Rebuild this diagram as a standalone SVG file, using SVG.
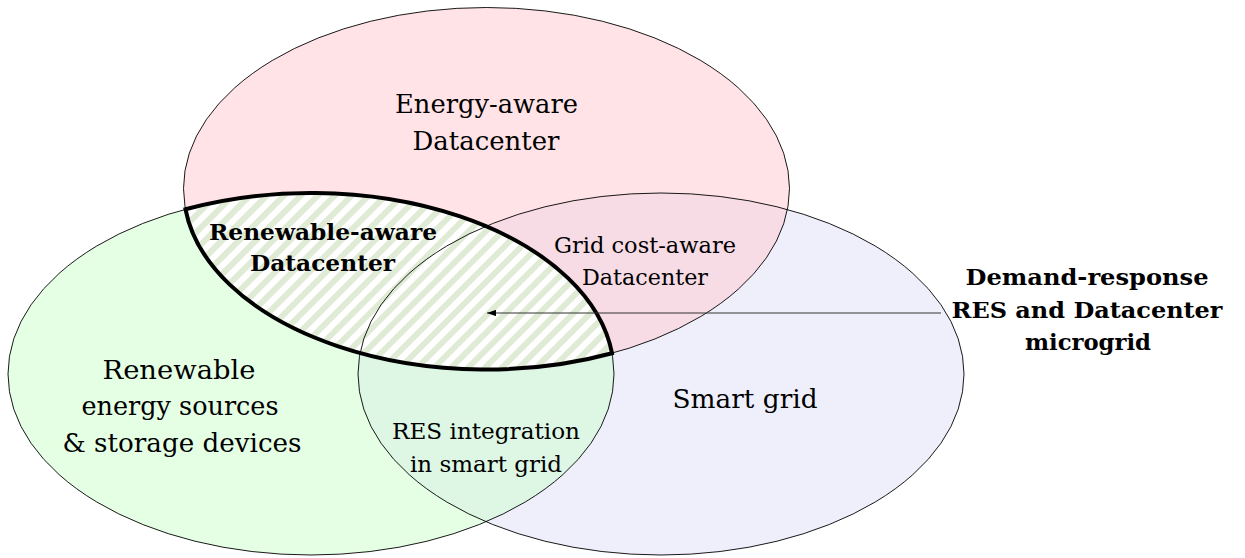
<svg xmlns="http://www.w3.org/2000/svg" width="1245" height="558" viewBox="0 0 1245 558">
  <style>
    .outline { fill: none; stroke: #000; stroke-width: 0.9; }
    .lbl { font-family: "DejaVu Serif", "Liberation Serif", serif; fill: #000; text-anchor: middle; }
    .big { font-size: 26px; }
    .small { font-size: 23px; }
    .bold { font-size: 22.5px; font-weight: bold; }
    .conn { stroke: #333; stroke-width: 1; fill: none; }
  </style>
  <defs>
    <pattern id="hatch" patternUnits="userSpaceOnUse" width="12" height="12" patternTransform="rotate(45)">
      <rect x="0" y="0" width="6" height="12" fill="#E0EBD6"/>
    </pattern>
    <marker id="arrow" viewBox="0 0 10 7" refX="10" refY="3.5" markerWidth="9" markerHeight="6.3" markerUnits="userSpaceOnUse" orient="auto">
      <path d="M0,0 L10,3.5 L0,7 Z" fill="#000"/>
    </marker>
  </defs>

  <rect width="1245" height="558" fill="#fff"/>

  <g id="fills">
    <ellipse cx="661" cy="374" rx="303" ry="181" fill="#DFDFF9" fill-opacity="0.5"/>
    <ellipse cx="311" cy="374" rx="303" ry="181" fill="#CCFFCC" fill-opacity="0.5"/>
    <ellipse cx="486.5" cy="188.5" rx="303" ry="181" fill="#FFC8CE" fill-opacity="0.5"/>
    <path d="M185.5,209.26 A303,181 0 0 1 612,353.24 A303,181 0 0 1 185.5,209.26 Z" fill="#fff"/>
    <path d="M185.5,209.26 A303,181 0 0 1 612,353.24 A303,181 0 0 1 185.5,209.26 Z" fill="url(#hatch)"/>
  </g>

  <g id="node-smart-grid">
    <ellipse class="outline" cx="661" cy="374" rx="303" ry="181"/>
    <text class="lbl big" x="745" y="408" textLength="145" lengthAdjust="spacingAndGlyphs">Smart grid</text>
  </g>

  <g id="node-res">
    <ellipse class="outline" cx="311" cy="374" rx="303" ry="181"/>
    <text class="lbl big" x="179" y="379" textLength="153" lengthAdjust="spacingAndGlyphs">Renewable</text>
    <text class="lbl big" x="180" y="415" textLength="197" lengthAdjust="spacingAndGlyphs">energy sources</text>
    <text class="lbl big" x="182" y="452" textLength="239" lengthAdjust="spacingAndGlyphs">&amp; storage devices</text>
  </g>

  <g id="node-datacenter">
    <ellipse class="outline" cx="486.5" cy="188.5" rx="303" ry="181"/>
    <text class="lbl big" x="486.5" y="113" textLength="183" lengthAdjust="spacingAndGlyphs">Energy-aware</text>
    <text class="lbl big" x="486" y="150" textLength="147" lengthAdjust="spacingAndGlyphs">Datacenter</text>
  </g>

  <g id="node-grid-cost">
    <text class="lbl small" x="645" y="253" textLength="182" lengthAdjust="spacingAndGlyphs">Grid cost-aware</text>
    <text class="lbl small" x="645" y="285" textLength="126" lengthAdjust="spacingAndGlyphs">Datacenter</text>
  </g>

  <g id="node-res-integration">
    <text class="lbl small" x="486" y="439" textLength="188" lengthAdjust="spacingAndGlyphs">RES integration</text>
    <text class="lbl small" x="486" y="472" textLength="152" lengthAdjust="spacingAndGlyphs">in smart grid</text>
  </g>

  <g id="node-renewable-aware">
    <path d="M185.5,209.26 A303,181 0 0 1 612,353.24 A303,181 0 0 1 185.5,209.26 Z" fill="none" stroke="#000" stroke-width="4"/>
    <text class="lbl bold" x="323" y="240" textLength="228" lengthAdjust="spacingAndGlyphs">Renewable-aware</text>
    <text class="lbl bold" x="322.5" y="271" textLength="145" lengthAdjust="spacingAndGlyphs">Datacenter</text>
  </g>

  <g id="node-microgrid">
    <text class="lbl bold" x="1087" y="285" textLength="243" lengthAdjust="spacingAndGlyphs">Demand-response</text>
    <text class="lbl bold" x="1087" y="318" textLength="271" lengthAdjust="spacingAndGlyphs">RES and Datacenter</text>
    <text class="lbl bold" x="1088" y="350" textLength="126" lengthAdjust="spacingAndGlyphs">microgrid</text>
  </g>

  <g id="connectors">
    <line class="conn" x1="941" y1="313" x2="487" y2="313" marker-end="url(#arrow)"/>
  </g>
</svg>
